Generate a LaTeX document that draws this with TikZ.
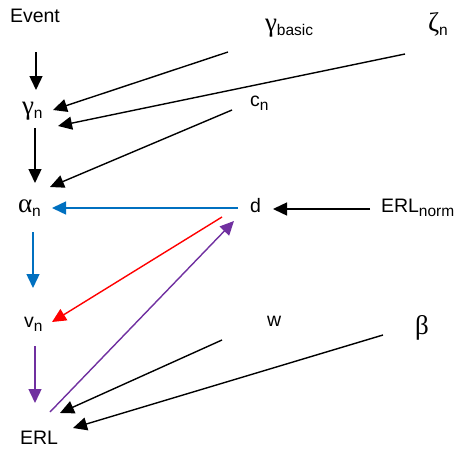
\documentclass[tikz,border=0pt]{standalone}
\usepackage{fontspec}
\setmainfont{Liberation Sans}
\newfontfamily\gfont{Liberation Serif}
\usetikzlibrary{arrows.meta}
\definecolor{ablue}{HTML}{0070C0}
\definecolor{ared}{HTML}{FF0000}
\definecolor{apurple}{HTML}{7030A0}
\newcommand\subx[1]{\raisebox{-4pt}{\fontsize{15.5}{15.5}\selectfont #1}}
\newcommand\gk[1]{{\gfont\fontsize{27}{27}\selectfont #1}}
\begin{document}
\begin{tikzpicture}[x=1pt,y=-1pt,
  lbl/.style={anchor=base west,inner sep=0pt,outer sep=0pt,font=\fontsize{19.5}{20}\selectfont},
  arr/.style={line width=1.4pt,-{Triangle[length=14pt,width=13pt]}}]
\useasboundingbox (0,0) rectangle (458,450);
% labels
\node[lbl] (ev) at (10,22.5) {Event};
\node[lbl] (gn) at (22,114) {\gk{γ}\subx{n}};
\node[lbl] (gb) at (265,31) {\gk{γ}\subx{basic}};
\node[lbl] (zn) at (428,31) {\gk{ζ}\subx{n}};
\node[lbl] (cn) at (250,106) {c\subx{n}};
\node[lbl] (an) at (18,212) {\gk{α}\subx{n}};
\node[lbl] (d) at (250,212) {d};
\node[lbl] (erln) at (381,212) {ERL\subx{norm}};
\node[lbl] (vn) at (24,327) {v\subx{n}};
\node[lbl] (w) at (267,326) {w};
\node[lbl] (b) at (415,334) {\gk{β}};
\node[lbl] (erl) at (20,444) {ERL};
% connector ends
\coordinate (evS) at (36,52);   \coordinate (gnN) at (36,90);
\coordinate (gbS) at (228,52);  \coordinate (gnE1) at (53,110);
\coordinate (znS) at (405,54);  \coordinate (gnE2) at (58,126);
\coordinate (cnW) at (232,110); \coordinate (anNE) at (50,187);
\coordinate (gnS) at (35,128);  \coordinate (anN) at (35,183);
\coordinate (dW) at (238,208);  \coordinate (anE) at (52,208);
\coordinate (erlnW) at (370,209); \coordinate (dE) at (273,209);
\coordinate (anS) at (33,232);  \coordinate (vnN) at (33,288);
\coordinate (dSW) at (222,217); \coordinate (vnE) at (52,322);
\coordinate (vnS) at (35,346);  \coordinate (erlN) at (35,403);
\coordinate (erlNE) at (50,412); \coordinate (dS) at (234,221);
\coordinate (wS) at (222,340);  \coordinate (erlE1) at (60,413);
\coordinate (bS) at (383,335);  \coordinate (erlE2) at (73,428);
% connectors
\draw[arr] (evS) -- (gnN);
\draw[arr] (gbS) -- (gnE1);
\draw[arr] (znS) -- (gnE2);
\draw[arr] (cnW) -- (anNE);
\draw[arr] (gnS) -- (anN);
\draw[arr,ablue] (dW) -- (anE);
\draw[arr] (erlnW) -- (dE);
\draw[arr,ablue] (anS) -- (vnN);
\draw[arr,ared] (dSW) -- (vnE);
\draw[arr,apurple] (vnS) -- (erlN);
\draw[arr,apurple] (erlNE) -- (dS);
\draw[arr] (wS) -- (erlE1);
\draw[arr] (bS) -- (erlE2);
\end{tikzpicture}
\end{document}
